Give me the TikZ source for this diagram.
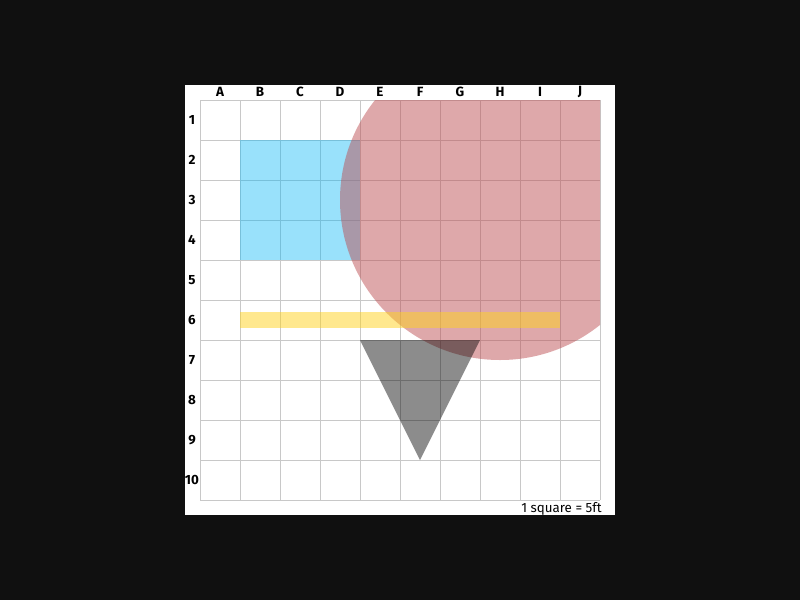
\documentclass[tikz,border=0pt]{standalone}
\usepackage{fontspec}
\setmainfont{Fira Sans}
\definecolor{pagebg}{HTML}{101010}
\definecolor{gridline}{HTML}{C8C8C8}
\definecolor{zoneblue}{HTML}{00B4F5}
\definecolor{zonered}{HTML}{BC4A4E}
\definecolor{zoneyellow}{HTML}{FFD21E}
\begin{document}
\begin{tikzpicture}[x=1cm, y=-1cm, font=\fontsize{9.5}{11}\selectfont]
\fill[pagebg] (0,0) rectangle (20,15);
\useasboundingbox (0,0) rectangle (20,15);
\fill[white] (4.625,2.125) rectangle (15.375,12.875);
\draw[gridline, line width=0.7pt, shift={(5,2.5)}] (0,0) grid (10,10);
\foreach \x/\l in {1/A, 2/B, 3/C, 4/D, 5/E, 6/F, 7/G, 8/H, 9/I, 10/J} {
  \node[font=\fontsize{9.5}{11}\selectfont\bfseries, inner sep=0pt] (col\l) at (4.5+\x,2.3) {\l};
}
\foreach \y in {1,...,10} {
  \node[font=\fontsize{9.5}{11}\selectfont\bfseries, inner sep=0pt] (row\y) at (4.8,2+\y) {\y};
}
\fill[zoneblue, opacity=0.4] (6,3.5) rectangle (9,6.5);
\begin{scope}
  \clip (5,2.5) rectangle (15,12.5);
  \fill[zonered, opacity=0.48] (12.5,5) circle (4);
\end{scope}
\fill[zoneyellow, opacity=0.5] (6,7.8) rectangle (14,8.2);
\fill[black, opacity=0.45] (9,8.5) -- (12,8.5) -- (10.5,11.5) -- cycle;
\node[anchor=base east, inner sep=0pt] (scale) at (15.05,12.8) {1 square = 5ft};
\end{tikzpicture}
\end{document}
